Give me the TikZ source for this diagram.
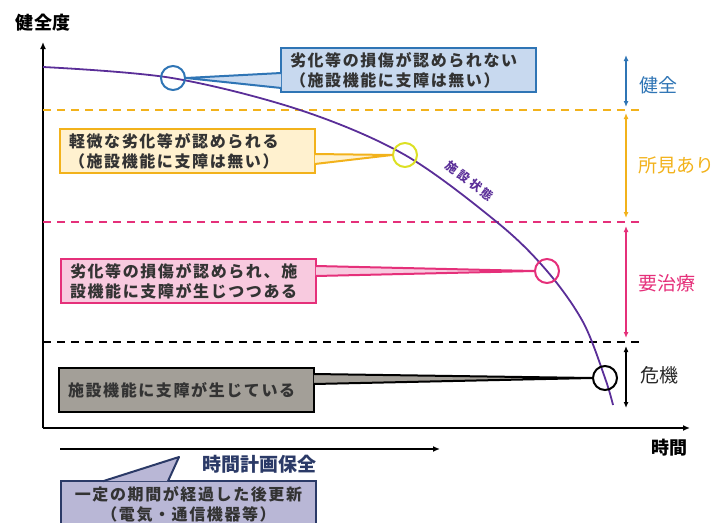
\documentclass[tikz,border=0pt]{standalone}
\usepackage{fontspec}
\setmainfont{Noto Sans CJK JP}
\usetikzlibrary{arrows.meta}

\definecolor{kenzen}{HTML}{2F75B5}
\definecolor{kenzenfill}{HTML}{C8D9EF}
\definecolor{shoken}{HTML}{F2B21B}
\definecolor{shokenfill}{HTML}{FFF1CF}
\definecolor{shokenmark}{HTML}{DCE024}
\definecolor{youchi}{HTML}{E5307A}
\definecolor{youchifill}{HTML}{F8CADF}
\definecolor{kikifill}{HTML}{A39F98}
\definecolor{keikaku}{HTML}{2B3A67}
\definecolor{keikakufill}{HTML}{B9B7D6}
\definecolor{jotai}{HTML}{5A2E98}

\begin{document}
\begin{tikzpicture}[x={(1pt,0pt)}, y={(0pt,-1pt)},
	boxtext/.style={anchor=north west, line width=2pt, inner xsep=9pt, inner ysep=0pt,
		text width=237pt, minimum height=44pt, align=left, text=black!80,
		font=\fontsize{16}{20}\selectfont\bfseries\addfontfeature{LetterSpace=10}},
	ring/.style={circle, line width=2pt, minimum size=24pt, inner sep=0pt},
	band/.style={{Latex[length=6pt,width=5pt]}-{Latex[length=6pt,width=5pt]}, line width=1.5pt},
	level/.style={dashed, line width=1.5pt, dash pattern=on 8pt off 6pt},
	side/.style={font=\fontsize{19}{19}\selectfont},
	beak/.style={line width=2pt, line join=round}]
		\useasboundingbox (0,0) rectangle (719,522);

		% Draw the axes
		\coordinate (origin) at (43,428);
		\coordinate (ytop) at (43,42);
		\coordinate (xend) at (690,428);
		\draw[-{Latex[length=7pt,width=6pt]}, line width=1.8pt] (origin) -- (ytop);
		\draw[-{Latex[length=7pt,width=6pt]}, line width=1.8pt] (origin) -- (xend);
		\node[font=\fontsize{18}{18}\selectfont\bfseries] (ylab) at (43,23) {健全度};
		\node[font=\fontsize{18}{18}\selectfont\bfseries] (xlab) at (669,448) {時間};

		% Draw the level lines
		\coordinate (yelL) at (43,110);  \coordinate (yelR) at (642,110);
		\coordinate (pinkL) at (43,222); \coordinate (pinkR) at (642,222);
		\coordinate (blkL) at (43,342);  \coordinate (blkR) at (642,342);
		\draw[level, shoken] (yelL) -- (yelR);
		\draw[level, youchi] (pinkL) -- (pinkR);
		\draw[level, black] (blkL) -- (blkR);

		% Draw the bands on the right
		\coordinate (b1) at (626,55);  \coordinate (b2) at (626,107);
		\coordinate (b3) at (626,113); \coordinate (b4) at (626,218);
		\coordinate (b5) at (626,226); \coordinate (b6) at (626,338);
		\coordinate (b7) at (626,346); \coordinate (b8) at (626,408);
		\draw[band, kenzen] (b1) -- (b2);
		\draw[band, shoken] (b3) -- (b4);
		\draw[band, youchi] (b5) -- (b6);
		\draw[band, black] (b7) -- (b8);
		\node[side, text=kenzen] (kenlab) at (658,85) {健全};
		\node[side, text=shoken] (shokenlab) at (676,165) {所見あり};
		\node[side, text=youchi] (youchilab) at (667,283) {要治療};
		\node[side, text=black!85] (kikilab) at (659,375) {危機};

		% Draw the facility state curve
		\draw[jotai, line width=1.8pt] plot[smooth, tension=0.55] coordinates {(43,67) (172,78) (300,110) (405,155) (498,223) (547,271) (583,322) (605,378) (613,405)};
		\node[text=jotai, rotate=-37, inner sep=0pt, font=\fontsize{12}{12}\selectfont\bfseries\addfontfeature{LetterSpace=22}] (jotailab) at (470,181) {施設状態};

		% Marks on the curve
		\node[ring, draw=kenzen] (kenmark) at (173,78) {};
		\node[ring, draw=shokenmark] (shokenmark) at (405,155) {};
		\node[ring, draw=youchi] (youchimark) at (547,271) {};
		\node[ring, draw=black] (kikimark) at (605,378) {};

		% Callouts
		\node[boxtext, draw=kenzen, fill=kenzenfill] (kenbox) at (280,47) {劣化等の損傷が認められない\\（施設機能に支障は無い）};
		\fill[kenzenfill] ([xshift=1.2pt, yshift=-3pt]kenbox.west) -- (kenmark.east) -- ([xshift=1.2pt, yshift=-18pt]kenbox.west) -- cycle;
		\draw[beak, kenzen] ([xshift=1.2pt, yshift=-3pt]kenbox.west) -- (kenmark.east) -- ([xshift=1.2pt, yshift=-18pt]kenbox.west);

		\node[boxtext, draw=shoken, fill=shokenfill] (shokenbox) at (59,128) {軽微な劣化等が認められる\\（施設機能に支障は無い）};
		\fill[shokenfill] ([xshift=-1.2pt, yshift=-3pt]shokenbox.east) -- (shokenmark.west) -- ([xshift=-1.2pt, yshift=-13pt]shokenbox.east) -- cycle;
		\draw[beak, shoken] ([xshift=-1.2pt, yshift=-3pt]shokenbox.east) -- (shokenmark.west) -- ([xshift=-1.2pt, yshift=-13pt]shokenbox.east);

		\node[boxtext, draw=youchi, fill=youchifill] (youchibox) at (60,258) {劣化等の損傷が認められ、施\\設機能に支障が生じつつある};
		\fill[youchifill] ([xshift=-1.2pt, yshift=15pt]youchibox.east) -- (youchimark.west) -- ([xshift=-1.2pt, yshift=5pt]youchibox.east) -- cycle;
		\draw[beak, youchi] ([xshift=-1.2pt, yshift=15pt]youchibox.east) -- (youchimark.west) -- ([xshift=-1.2pt, yshift=5pt]youchibox.east);

		\node[boxtext, draw=black, fill=kikifill] (kikibox) at (58,367) {施設機能に支障が生じている};
		\fill[kikifill] ([xshift=-1.2pt, yshift=16pt]kikibox.east) -- (kikimark.west) -- ([xshift=-1.2pt, yshift=6pt]kikibox.east) -- cycle;
		\draw[beak, black] ([xshift=-1.2pt, yshift=16pt]kikibox.east) -- (kikimark.west) -- ([xshift=-1.2pt, yshift=6pt]kikibox.east);

		% Time based maintenance
		\coordinate (tbmL) at (60,449);
		\coordinate (tbmR) at (440,449);
		\draw[-{Latex[length=7pt,width=6pt]}, line width=1.5pt] (tbmL) -- (tbmR);
		\node[text=keikaku, font=\fontsize{19}{19}\selectfont\bfseries] (tbmlab) at (259,464) {時間計画保全};
		\node[boxtext, draw=keikaku, fill=keikakufill, align=center, minimum height=46pt] (tbmbox) at (60,480) {一定の期間が経過した後更新\\（電気・通信機器等）};
		\coordinate (tbmtip) at (179,457);
		\fill[keikakufill] ([xshift=43pt, yshift=-1.2pt]tbmbox.north west) -- (tbmtip) -- ([xshift=108pt, yshift=-1.2pt]tbmbox.north west) -- cycle;
		\draw[beak, keikaku] ([xshift=43pt, yshift=-1.2pt]tbmbox.north west) -- (tbmtip) -- ([xshift=108pt, yshift=-1.2pt]tbmbox.north west);

	\end{tikzpicture}
\end{document}
